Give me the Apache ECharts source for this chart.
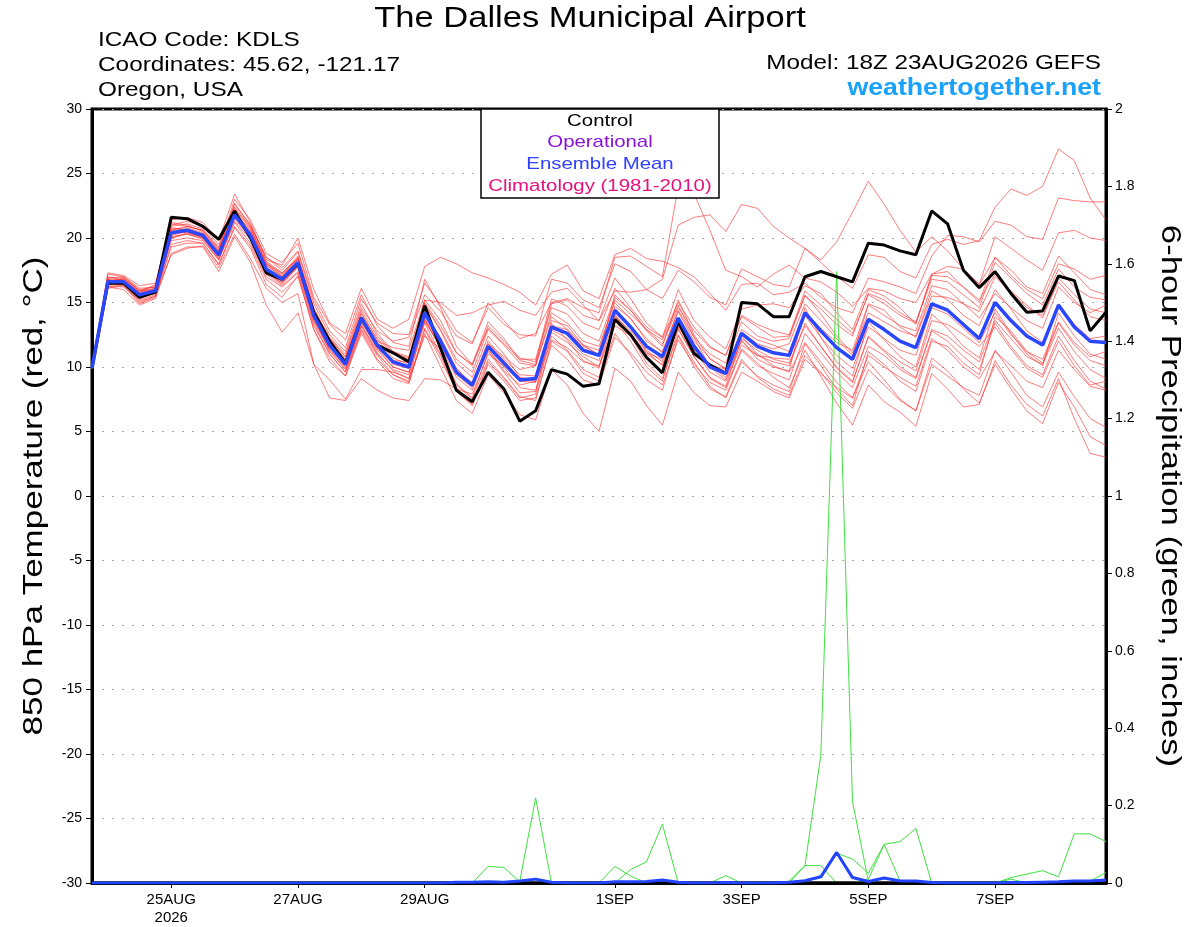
<!DOCTYPE html>
<html>
<head>
<meta charset="utf-8">
<title>The Dalles Municipal Airport - GEFS</title>
<script src="https://cdn.jsdelivr.net/npm/echarts@6.0.0/dist/echarts.min.js"></script>
<style>
	html, body { margin:0; padding:0; background:#fff; }
	#chart { width:1200px; height:927px; }
</style>
</head>
<body>
<div id="chart"></div>
<script>
// start of the run: 18Z 23AUG2026, one point every 6 hours (0..384 h)
var startTime = Date.UTC(2026, 7, 23, 18);
var stepCount = 65;

// x axis tick labels (index of the 6-hourly point -> text)
var tickIndex = [5, 13, 21, 33, 41, 49, 57];
var tickText = ["25AUG\n2026", "27AUG", "29AUG", "1SEP", "3SEP", "5SEP", "7SEP"];

// left axis (850 hPa temperature, C)
var tempTicks = { min:-30, max:30, interval:5 };
// right axis (6-hour precipitation, inches)
var precipTicks = { min:0, max:2, interval:0.2 };

// control run (black)
var controlTemp = [9.9,
	16.5,16.5,15.4,15.8, 21.6,21.5,20.9,19.9, 22.1,20.0,17.3,16.8, 18.0,14.2,12.0,10.3,
	13.8,11.7,11.1,10.4, 14.75,11.45,8.2,7.3, 9.6,8.3,5.8,6.6, 9.8,9.45,8.5,8.7,
	13.7,12.5,10.75,9.55, 13.5,11.05,10.15,9.5, 15.0,14.9,13.9,13.9, 17.0,17.4,17.0,16.6,
	19.6,19.45,19.0,18.7, 22.1,21.1,17.5,16.15, 17.4,15.7,14.25,14.35, 17.05,16.7,12.8,14.25];

// ensemble mean (blue)
var meanTemp = [9.9,
	16.6,16.6,15.6,15.9, 20.4,20.6,20.2,18.7, 21.8,20.2,17.6,16.8, 18.1,14.0,11.7,10.2,
	13.8,11.7,10.4,10.0, 14.2,12.0,9.6,8.6, 11.6,10.3,9.0,9.1, 13.1,12.6,11.3,10.9,
	14.4,13.1,11.6,10.8, 13.8,11.6,10.0,9.5, 12.6,11.6,11.1,10.9, 14.2,12.8,11.5,10.6,
	13.7,12.9,12.0,11.5, 14.9,14.4,13.3,12.2, 15.0,13.6,12.4,11.7, 14.8,13.1,12.0,11.9];

// ensemble members (red)
var member01 = [9.9,
	16.9,16.9,15.9,16.3, 21.0,21.3,20.9,19.5, 22.6,21.0,18.5,17.7, 19.0,15.2,12.8,11.5,
	15.3,13.4,12.6,12.5, 16.5,14.8,12.8,11.9, 14.6,13.3,12.5,12.4, 16.8,16.5,15.2,14.6,
	18.0,17.4,16.0,15.3, 17.5,16.6,15.4,14.8, 17.6,17.0,16.4,16.2, 19.2,18.1,17.0,16.1,
	18.7,18.5,17.4,16.9, 19.5,19.9,19.5,19.8, 22.4,23.8,23.3,24.0, 26.9,26.0,23.1,21.4];
var member02 = [9.9,
	17.2,17.0,16.1,16.2, 21.4,21.6,21.2,19.8, 23.4,21.2,18.3,17.9, 20.0,16.0,13.4,12.6,
	16.1,13.7,13.0,13.7, 17.8,18.5,18.0,17.3, 16.9,16.4,15.8,14.8, 17.2,17.9,15.9,15.3,
	18.7,19.2,18.4,18.2, 17.7,17.0,15.7,14.4, 16.4,16.5,15.6,15.8, 16.5,15.4,14.6,14.2,
	16.9,16.6,16.2,15.7, 18.6,20.2,20.1,19.7, 21.3,21.0,20.1,19.9, 23.1,22.9,22.8,22.8];
var member03 = [9.9,
	16.4,16.6,15.5,15.7, 20.0,20.3,20.0,18.4, 21.5,20.0,17.6,16.6, 17.7,13.6,11.4,10.0,
	13.4,12.0,11.5,11.3, 15.2,15.0,14.0,14.2, 14.8,15.1,14.4,14.0, 15.8,16.1,14.8,13.6,
	15.9,15.8,16.0,16.8, 21.0,21.6,21.8,20.5, 22.6,22.3,20.9,20.0, 19.2,18.3,19.7,22.0,
	24.4,22.6,20.6,18.9, 20.1,19.0,17.6,16.4, 18.5,17.5,16.2,15.7, 18.6,17.3,16.0,15.6];
var member04 = [9.9,
	16.7,16.8,15.8,16.0, 20.7,20.8,20.4,19.0, 22.0,20.6,17.9,17.0, 18.4,14.4,12.3,11.0,
	14.6,12.8,12.0,12.3, 15.6,14.3,12.4,11.8, 15.0,13.6,12.2,12.6, 15.0,15.3,14.6,14.2,
	18.5,18.6,17.8,17.0, 24.0,23.4,20.6,17.5, 17.0,16.2,17.2,17.9, 16.9,16.6,15.8,14.7,
	16.1,15.9,15.3,15.0, 17.2,17.8,17.6,16.4, 20.1,19.2,18.3,17.5, 20.4,20.6,20.0,19.8];
var member05 = [9.9,
	17.3,17.1,16.3,16.5, 21.1,20.9,20.6,19.2, 23.0,21.4,18.8,18.1, 19.6,15.4,13.3,12.1,
	15.6,13.2,11.9,11.6, 16.8,14.6,11.6,10.2, 13.5,12.2,10.5,10.2, 14.9,15.2,14.0,13.6,
	16.9,15.3,13.4,12.3, 16.0,13.6,12.3,11.4, 14.5,14.8,14.9,14.6, 16.3,15.7,14.2,12.9,
	16.0,15.5,14.6,13.3, 17.2,17.4,16.2,15.0, 18.5,17.1,16.0,15.3, 18.0,17.6,16.8,17.1];
var member06 = [9.9,
	16.3,16.2,15.2,15.6, 19.8,20.0,19.8,18.3, 21.2,19.6,17.0,16.2, 17.3,13.2,11.0,9.6,
	13.2,11.3,10.0,9.6, 13.6,11.5,9.2,8.2, 11.8,10.8,9.8,10.1, 14.2,13.4,12.0,11.6,
	15.0,13.7,12.2,11.1, 14.4,12.3,11.0,10.3, 13.5,12.4,12.0,12.2, 15.6,14.1,12.4,11.1,
	14.2,13.5,12.8,12.4, 15.9,15.2,14.0,13.2, 16.0,14.5,12.8,11.9, 14.9,13.3,12.2,12.4];
var member07 = [9.9,
	16.8,16.6,15.7,16.1, 20.5,20.4,20.1,18.9, 22.2,20.7,18.1,17.2, 18.6,14.6,12.1,10.6,
	14.2,12.1,10.7,10.2, 14.8,12.8,10.3,9.2, 12.4,11.0,9.2,9.0, 13.0,12.7,11.6,11.0,
	13.9,12.8,11.3,10.4, 13.3,11.3,9.6,8.9, 11.7,10.9,10.4,10.1, 13.4,11.6,10.0,8.9,
	12.3,11.2,10.0,9.2, 12.9,12.4,11.3,10.4, 13.6,12.2,10.8,10.2, 13.0,11.2,9.8,9.1];
var member08 = [9.9,
	16.1,16.3,14.9,15.4, 19.3,19.6,19.6,17.9, 20.8,19.2,16.4,15.4, 17.1,12.9,10.4,9.3,
	12.9,10.9,9.4,8.8, 12.9,10.6,8.1,7.1, 10.2,8.9,7.4,7.6, 11.7,10.6,9.0,8.6,
	12.3,11.1,9.6,8.6, 12.1,10.2,8.8,8.2, 11.3,10.1,9.5,9.0, 12.6,11.1,9.6,8.4,
	11.6,10.9,9.8,9.1, 12.8,12.0,10.8,9.8, 13.4,11.6,10.1,9.4, 12.4,10.5,8.9,8.3];
var member09 = [9.9,
	16.5,16.4,15.3,15.8, 20.2,20.5,20.0,18.5, 21.6,20.3,17.4,16.4, 17.8,13.8,11.2,9.8,
	13.1,11.0,9.8,9.4, 13.4,11.0,8.6,7.5, 10.6,9.2,7.7,7.4, 12.0,11.2,9.5,8.9,
	12.6,10.9,9.0,8.2, 12.4,10.0,8.3,7.7, 10.6,9.2,8.3,7.8, 10.9,9.6,8.0,6.8,
	9.8,8.6,7.4,6.6, 10.7,9.7,8.3,7.2, 10.2,8.3,6.6,5.6, 8.8,6.9,4.6,3.9];
var member10 = [9.9,
	16.2,16.0,14.8,15.3, 18.8,19.3,19.3,17.4, 20.1,18.1,14.8,12.7, 14.2,10.2,7.6,7.4,
	9.1,8.2,7.6,7.4, 9.1,9.0,8.3,7.9, 11.0,10.1,8.9,8.8, 12.1,11.5,10.4,10.1,
	13.2,12.4,11.0,10.2, 13.1,11.4,10.2,9.8, 12.4,11.0,10.1,9.6, 11.9,10.4,8.8,7.6,
	10.4,9.0,7.5,6.6, 10.2,9.3,8.4,7.8, 11.3,9.6,7.8,6.9, 9.6,7.7,6.0,5.3];
var member11 = [9.9,
	16.4,16.5,15.1,15.5, 18.7,19.2,19.4,17.7, 20.3,18.4,16.1,15.0, 15.7,10.2,9.0,7.5,
	9.8,9.8,9.6,9.1, 12.4,11.4,9.9,8.6, 11.4,9.7,8.6,8.9, 13.6,13.2,11.7,10.9,
	15.6,14.4,12.8,11.6, 15.2,12.5,10.6,9.9, 12.7,11.8,11.4,11.8, 14.9,13.6,12.2,10.9,
	14.8,14.0,13.2,12.8, 16.3,16.0,14.9,13.8, 15.7,14.6,13.6,13.0, 16.2,15.0,14.2,14.8];
var member12 = [9.9,
	16.9,17.0,16.0,16.2, 20.9,21.1,20.7,19.3, 22.4,20.9,18.2,17.3, 18.4,14.3,12.0,10.6,
	13.9,11.9,10.2,9.9, 13.7,11.9,9.4,8.4, 11.3,10.0,8.4,8.2, 12.7,11.9,10.8,10.0,
	14.7,13.8,12.0,11.2, 14.3,12.0,10.7,9.8, 12.9,12.1,11.7,11.2, 14.3,13.0,11.9,11.3,
	14.9,14.4,13.1,12.3, 15.5,15.4,14.9,14.3, 17.0,15.8,14.6,14.0, 16.6,15.2,13.9,13.6];
var member13 = [9.9,
	16.6,16.3,15.4,15.8, 20.1,20.3,19.9,18.3, 21.3,19.9,17.2,16.3, 17.4,13.4,11.0,9.6,
	12.8,10.6,9.4,8.9, 12.6,10.0,7.4,6.4, 9.4,8.0,6.3,5.9, 9.8,8.6,6.4,5.0,
	9.9,8.9,7.0,5.5, 9.6,8.0,7.0,6.9, 9.6,8.9,8.1,7.6, 10.6,9.5,8.4,7.6,
	10.9,10.0,9.2,8.5, 12.2,11.3,10.0,9.1, 11.2,10.1,8.9,8.4, 11.3,9.8,8.5,8.2];
var member14 = [9.9,
	16.7,16.8,15.9,16.0, 20.6,20.7,20.3,18.8, 21.9,20.4,17.9,17.0, 18.3,14.1,11.8,10.4,
	13.5,11.4,10.5,10.4, 13.5,11.7,9.6,8.8, 12.0,10.6,9.4,9.3, 13.4,12.1,10.5,9.9,
	14.0,12.4,10.3,9.1, 12.5,10.4,8.5,7.6, 10.4,9.3,8.6,8.1, 11.8,10.1,8.3,7.0,
	11.2,10.2,8.9,8.1, 12.0,11.6,10.3,9.4, 13.9,12.8,11.2,10.3, 13.4,11.7,10.5,10.1];
var member15 = [9.9,
	16.4,16.7,15.6,15.9, 20.3,20.5,20.2,18.6, 21.7,20.0,17.3,16.5, 17.9,13.9,11.5,10.2,
	13.6,11.5,10.0,9.6, 14.1,12.3,9.9,8.7, 11.8,10.5,9.1,8.9, 12.9,12.2,11.0,10.5,
	14.5,13.0,11.2,10.1, 13.0,10.8,9.1,8.4, 11.4,10.3,9.2,8.4, 11.3,9.3,7.2,5.5,
	8.6,7.3,6.5,5.4, 9.5,8.3,6.9,7.1, 10.5,8.6,7.1,6.2, 9.1,6.0,3.3,3.0];
var member16 = [9.9,
	17.0,16.7,15.8,16.4, 21.2,21.0,20.5,19.0, 22.7,21.0,18.5,17.5, 18.9,14.9,12.5,11.2,
	14.9,12.6,11.2,10.8, 15.2,13.6,11.1,10.1, 13.2,12.0,10.7,10.4, 15.3,14.7,13.4,12.9,
	16.1,14.6,13.1,12.3, 15.0,13.1,11.6,10.9, 14.0,13.3,12.8,12.5, 15.5,14.5,13.3,12.4,
	15.7,15.2,14.2,13.5, 16.8,16.6,15.6,14.6, 18.1,16.9,15.7,14.8, 17.6,16.2,15.4,15.2];
var member17 = [9.9,
	16.5,16.5,15.4,15.7, 20.0,20.4,20.1,18.6, 21.6,20.1,17.3,16.6, 17.8,13.6,11.3,9.9,
	13.3,11.1,9.7,9.1, 13.8,11.4,8.7,7.6, 11.2,9.6,8.0,8.1, 13.2,12.9,11.7,11.3,
	15.2,14.1,12.9,12.1, 14.8,12.3,10.0,9.0, 12.1,10.6,10.0,9.7, 14.6,12.3,10.4,9.3,
	13.5,12.1,10.8,10.0, 14.1,13.0,11.6,10.7, 14.5,12.6,11.0,10.1, 14.2,12.4,11.0,10.6];
var member18 = [9.9,
	16.6,16.9,15.9,16.1, 20.6,20.9,20.6,19.1, 22.3,20.8,18.0,17.1, 18.5,14.4,12.2,10.8,
	14.4,12.4,11.1,10.7, 14.9,12.9,10.6,9.6, 12.9,11.7,10.3,10.1, 13.9,12.9,11.4,10.8,
	14.1,12.6,11.1,10.6, 13.7,11.8,10.1,9.2, 12.0,10.9,10.7,10.6, 14.0,12.3,10.9,9.9,
	13.1,12.2,11.3,10.9, 14.6,14.1,13.0,11.9, 14.2,12.5,11.2,10.6, 13.5,11.9,10.8,11.2];
var member19 = [9.9,
	16.2,16.4,15.0,15.5, 19.5,19.8,19.6,18.0, 20.9,19.4,16.8,15.8, 17.0,12.9,10.7,9.3,
	12.6,10.5,9.1,8.7, 13.0,10.9,8.1,7.0, 10.4,9.1,7.6,7.9, 12.4,11.3,9.8,9.2,
	13.6,12.0,10.0,8.9, 12.9,10.8,9.2,8.5, 12.2,11.3,10.6,10.3, 13.2,11.6,9.9,8.8,
	12.4,11.3,10.4,9.7, 13.6,13.3,12.5,11.6, 13.1,11.4,9.9,9.2, 12.0,10.1,8.6,8.9];
var member20 = [9.9,
	16.8,16.5,15.5,16.0, 20.8,20.6,20.3,18.9, 22.0,20.5,18.0,17.3, 18.4,14.5,12.2,10.8,
	14.1,12.2,11.0,10.6, 15.0,13.2,11.1,10.2, 13.0,11.8,10.6,10.6, 14.6,14.1,12.6,12.0,
	15.4,14.4,12.9,11.8, 14.6,12.8,11.5,10.9, 13.9,13.1,12.3,12.4, 15.9,14.8,13.7,12.6,
	15.6,14.9,14.0,13.4, 17.1,17.0,16.2,15.2, 17.2,15.9,14.8,13.8, 16.9,15.6,14.5,14.2];
var members = [member01, member02, member03, member04, member05, member06, member07,
	member08, member09, member10, member11, member12, member13, member14, member15,
	member16, member17, member18, member19, member20];

// 6-hour precipitation of single members (green)
var precip01 = [0,0,0,0,0,0,0,0,0,0, 0,0,0,0,0,0,0,0,0,0, 0,0,0,0,0,0.043,0.040,0.003,0,0,
	0,0,0,0,0,0,0,0,0,0, 0,0,0,0,0,0,0,0,0,0, 0,0,0,0,0,0,0,0,0,0, 0,0,0,0,0];
var precip02 = [0,0,0,0,0,0,0,0,0,0, 0,0,0,0,0,0,0,0,0,0, 0,0,0,0,0,0,0,0.005,0.22,0,
	0,0,0,0,0,0,0,0,0,0, 0,0,0,0,0,0,0,0,0,0, 0,0,0,0,0,0,0,0,0,0, 0,0,0,0,0];
var precip03 = [0,0,0,0,0,0,0,0,0,0, 0,0,0,0,0,0,0,0,0,0, 0,0,0,0,0,0,0,0,0,0,
	0,0,0,0.043,0.018,0,0,0,0,0, 0,0,0,0,0,0,0,0,0,0, 0,0,0,0,0,0,0,0,0,0, 0,0,0,0,0];
var precip04 = [0,0,0,0,0,0,0,0,0,0, 0,0,0,0,0,0,0,0,0,0, 0,0,0,0,0,0,0,0,0,0,
	0,0,0,0,0.035,0.055,0.152,0,0,0, 0,0,0,0,0,0,0,0,0,0, 0,0,0,0,0,0,0,0,0,0, 0,0,0,0,0];
var precip05 = [0,0,0,0,0,0,0,0,0,0, 0,0,0,0,0,0,0,0,0,0, 0,0,0,0,0,0,0,0,0,0,
	0,0,0,0,0,0,0,0,0,0, 0.019,0,0,0,0,0,0,0,0,0, 0,0,0,0,0,0,0,0,0,0, 0,0,0,0,0];
var precip06 = [0,0,0,0,0,0,0,0,0,0, 0,0,0,0,0,0,0,0,0,0, 0,0,0,0,0,0,0,0,0,0,
	0,0,0,0,0,0,0,0,0,0, 0,0,0,0,0.005,0.045,0.33,1.58,0.21,0.005, 0,0,0,0,0,0,0,0,0,0, 0,0,0,0,0];
var precip07 = [0,0,0,0,0,0,0,0,0,0, 0,0,0,0,0,0,0,0,0,0, 0,0,0,0,0,0,0,0,0,0,
	0,0,0,0,0,0,0,0,0,0, 0,0,0,0,0,0.045,0.045,0,0,0, 0,0,0,0,0,0,0,0,0,0, 0,0,0,0,0];
var precip08 = [0,0,0,0,0,0,0,0,0,0, 0,0,0,0,0,0,0,0,0,0, 0,0,0,0,0,0,0,0,0,0,
	0,0,0,0,0,0,0,0,0,0, 0,0,0,0,0,0,0.02,0.077,0.062,0.025, 0.10,0.005,0,0,0,0,0,0,0,0, 0,0,0,0,0];
var precip09 = [0,0,0,0,0,0,0,0,0,0, 0,0,0,0,0,0,0,0,0,0, 0,0,0,0,0,0,0,0,0,0,
	0,0,0,0,0,0,0,0,0,0, 0,0,0,0,0,0,0,0,0,0.01, 0.10,0.107,0.141,0,0,0,0,0,0,0, 0,0,0,0,0];
var precip10 = [0,0,0,0,0,0,0,0,0,0, 0,0,0,0,0,0,0,0,0,0, 0,0,0,0,0,0,0,0,0,0,
	0,0,0,0,0,0,0,0,0,0, 0,0,0,0,0,0,0,0,0,0, 0,0,0,0,0,0,0,0,0.014,0.023, 0.032,0.016,0.127,0.127,0.107];
var precip11 = [0,0,0,0,0,0,0,0,0,0, 0,0,0,0,0,0,0,0,0,0, 0,0,0,0,0,0,0,0,0,0,
	0,0,0,0,0,0,0,0,0,0, 0,0,0,0,0,0,0,0,0,0, 0,0,0,0,0,0,0,0,0.01,0, 0,0,0,0.005,0.027];
var precipMembers = [precip01, precip02, precip03, precip04, precip05, precip06,
	precip07, precip08, precip09, precip10, precip11];

// ensemble mean precipitation (blue) and control precipitation (black)
var meanPrecip = [0,0,0,0,0,0,0,0,0,0, 0,0,0,0,0,0,0,0,0,0,
	0,0,0,0.002,0.002,0.003,0.002,0.005,0.01,0.002,
	0,0,0,0.003,0.003,0.004,0.008,0.002,0,0,
	0.001,0,0,0,0.002,0.006,0.016,0.079,0.014,0.004,
	0.013,0.005,0.005,0.001,0,0,0,0,0.001,0.001,
	0.002,0.003,0.005,0.005,0.008];
var controlPrecip = [0,0,0,0,0,0,0,0,0,0, 0,0,0,0,0,0,0,0,0,0, 0,0,0,0,0,0,0,0,0,0,
	0,0,0,0,0,0,0,0,0,0, 0,0,0,0,0,0,0,0,0,0, 0,0,0,0,0,0,0,0,0,0, 0,0,0,0,0];

(function(){
	var fontName = "'Liberation Sans', Arial, Helvetica, sans-serif";
	var months = ["JAN","FEB","MAR","APR","MAY","JUN","JUL","AUG","SEP","OCT","NOV","DEC"];

	// time categories, one every 6 hours
	var categories = [];
	for (var i = 0; i < stepCount; i++) {
		var d = new Date(startTime + i * 6 * 3600 * 1000);
		categories.push(("0" + d.getUTCHours()).slice(-2) + "Z" + d.getUTCDate() + months[d.getUTCMonth()]);
	}
	function isTick(index){
		return tickIndex.indexOf(index) >= 0;
	}

	var series = [];
	//ensemble members first so they sit underneath
	members.map(function(item, index){
		series.push({
			name:"member" + (index + 1),
			type:"line",
			yAxisIndex:0,
			data:item,
			symbol:"none",
			silent:true,
			lineStyle:{ color:"rgba(255,45,45,0.62)", width:1 },
			z:2
		});
	});
	precipMembers.map(function(item, index){
		series.push({
			name:"precip" + (index + 1),
			type:"line",
			yAxisIndex:1,
			data:item,
			symbol:"none",
			silent:true,
			lineStyle:{ color:"#3fe03f", width:1 },
			z:3
		});
	});
	series.push({
		name:"Control precip", type:"line", yAxisIndex:1, data:controlPrecip,
		symbol:"none", lineStyle:{ color:"#000", width:3 }, z:4
	});
	series.push({
		name:"Mean precip", type:"line", yAxisIndex:1, data:meanPrecip,
		symbol:"none", lineStyle:{ color:"#2244ff", width:3 }, z:5
	});
	series.push({
		name:"Control", type:"line", yAxisIndex:0, data:controlTemp,
		symbol:"none", lineStyle:{ color:"#000", width:3 }, z:6
	});
	series.push({
		name:"Ensemble Mean", type:"line", yAxisIndex:0, data:meanTemp,
		symbol:"none", lineStyle:{ color:"#2a46ff", width:3.5 }, z:7
	});

	//the original lettering is a wide helvetica, so stretch it a little
	function text(x, y, str, font, color, align, stretch, rotation){
		return {
			type:"text", x:x, y:y, z:100,
			rotation:rotation || 0, scaleX:stretch || 1,
			style:{
				text:str, font:font, fill:color,
				textAlign:align, align:align,
				textVerticalAlign:"middle", verticalAlign:"middle"
			}
		};
	}

	var option = {
		animation:false,
		backgroundColor:"#fff",
		grid:{
			left:92, right:94, top:109, bottom:44,
			show:true, borderColor:"#000", borderWidth:3, backgroundColor:"transparent"
		},
		xAxis:[{
			type:"category",
			data:categories,
			boundaryGap:false,
			axisLine:{ show:true, onZero:false, lineStyle:{ color:"#000", width:3 } },
			axisTick:{ show:true, interval:function(index){ return isTick(index); }, length:5, lineStyle:{ color:"#000", width:1 } },
			axisLabel:{
				interval:function(index){ return isTick(index); },
				formatter:function(value, index){
					var k = tickIndex.indexOf(index);
					return k >= 0 ? tickText[k] : "";
				},
				color:"#000", fontFamily:fontName, fontSize:15, lineHeight:18, margin:8
			},
			splitLine:{ show:false }
		}],
		yAxis:[{
			type:"value",
			position:"left",
			min:tempTicks.min, max:tempTicks.max, interval:tempTicks.interval,
			axisLine:{ show:true, lineStyle:{ color:"#000", width:3 } },
			axisTick:{ show:true, length:6, lineStyle:{ color:"#000" } },
			axisLabel:{ color:"#000", fontFamily:fontName, fontSize:14, margin:10 },
			splitLine:{ show:true, lineStyle:{ color:"#a8a8a8", width:1.2, type:[2, 8] } }
		},{
			type:"value",
			position:"right",
			min:precipTicks.min, max:precipTicks.max, interval:precipTicks.interval,
			axisLine:{ show:true, lineStyle:{ color:"#000", width:3 } },
			axisTick:{ show:true, length:6, lineStyle:{ color:"#000" } },
			axisLabel:{ color:"#000", fontFamily:fontName, fontSize:14, margin:9 },
			splitLine:{ show:false }
		}],
		series:series,
		graphic:[
			text(590, 18.5, "The Dalles Municipal Airport", "29px " + fontName, "#000", "center", 1.19),
			text(98, 40, "ICAO Code: KDLS", "21px " + fontName, "#000", "left", 1.16),
			text(98, 65, "Coordinates: 45.62, -121.17", "21px " + fontName, "#000", "left", 1.16),
			text(98, 90, "Oregon, USA", "21px " + fontName, "#000", "left", 1.16),
			text(1101, 63, "Model: 18Z 23AUG2026 GEFS", "21px " + fontName, "#000", "right", 1.156),
			text(1101, 89, "weathertogether.net", "bold 23px " + fontName, "#19a2fb", "right", 1.16),
			{
				type:"rect", z:99,
				shape:{ x:481, y:109, width:238, height:89 },
				style:{ fill:"#fff", stroke:"#000", lineWidth:1.5 }
			},
			text(600, 121, "Control", "17px " + fontName, "#000", "center", 1.2),
			text(600, 142, "Operational", "17px " + fontName, "#8a12d6", "center", 1.2),
			text(600, 164, "Ensemble Mean", "17px " + fontName, "#3040ff", "center", 1.2),
			text(600, 186, "Climatology (1981-2010)", "17px " + fontName, "#e8107c", "center", 1.2),
			text(34, 496, "850 hPa Temperature (red, \u00b0C)", "28px " + fontName, "#000", "center", 1.25, Math.PI / 2),
			text(1170, 496, "6-hour Precipitation (green, inches)", "28px " + fontName, "#000", "center", 1.24, -Math.PI / 2)
		]
	};

	var myChart = echarts.init(document.getElementById("chart"));
	myChart.setOption(option);
})();
</script>
</body>
</html>
